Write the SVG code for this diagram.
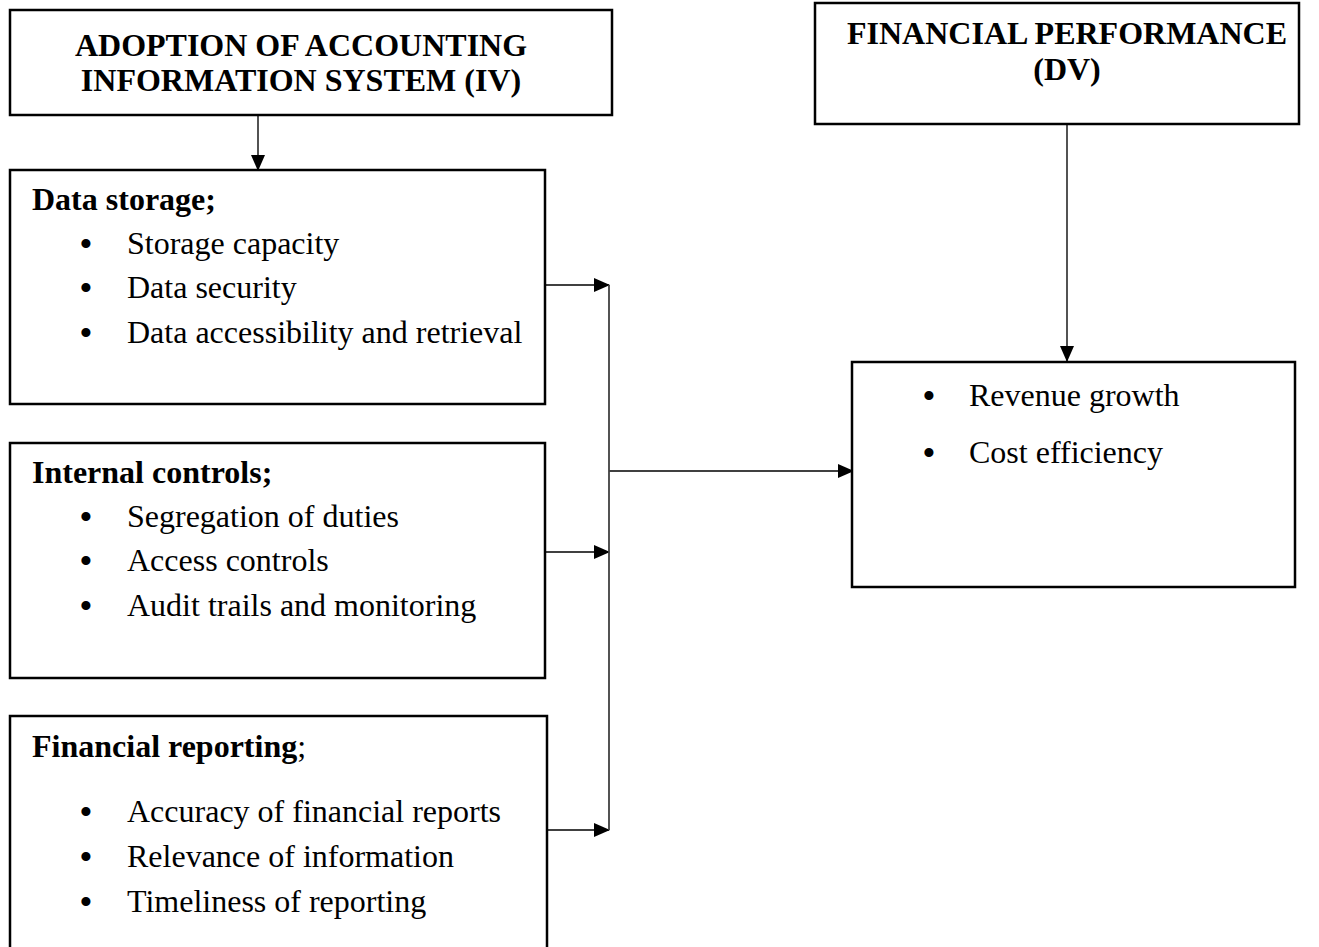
<svg xmlns="http://www.w3.org/2000/svg" width="1319" height="947" viewBox="0 0 1319 947">
<style>
.box{fill:#fff;stroke:#000;stroke-width:2.5}
.t{font-family:"Liberation Serif","Times New Roman",serif;font-size:32px;fill:#000}
.b{font-weight:bold}
.c{text-anchor:middle}
.bu{font-family:"Liberation Serif","Times New Roman",serif;font-size:38px;fill:#000;text-anchor:middle}
.ln{stroke:#404040;stroke-width:1.8;fill:none}
</style>
<defs>
<marker id="ah" markerWidth="16" markerHeight="14" refX="15" refY="7" orient="auto" markerUnits="userSpaceOnUse">
<path d="M0,0 L16,7 L0,14 Z" fill="#000"/>
</marker>
</defs>
<rect width="1319" height="947" fill="#fff"/>
<g id="connectors">
<line class="ln" x1="258" y1="115" x2="258" y2="170" marker-end="url(#ah)"/>
<line class="ln" x1="1067" y1="124" x2="1067" y2="361" marker-end="url(#ah)"/>
<line class="ln" x1="545" y1="285" x2="609" y2="285" marker-end="url(#ah)"/>
<line class="ln" x1="545" y1="552" x2="609" y2="552" marker-end="url(#ah)"/>
<line class="ln" x1="547" y1="830" x2="609" y2="830" marker-end="url(#ah)"/>
<line class="ln" x1="609" y1="285" x2="609" y2="830"/>
<line class="ln" x1="609" y1="471" x2="853" y2="471" marker-end="url(#ah)"/>
</g>
<g id="iv">
<rect class="box" x="10" y="10" width="602" height="105"/>
<text class="t b c" x="301" y="56">ADOPTION OF ACCOUNTING</text>
<text class="t b c" x="301" y="91">INFORMATION SYSTEM (IV)</text>
</g>
<g id="data-storage">
<rect class="box" x="10" y="170" width="535" height="234"/>
<text class="t b" x="32" y="210">Data storage;</text>
<text class="bu" x="86" y="257">•</text><text class="t" x="127" y="254">Storage capacity</text>
<text class="bu" x="86" y="301">•</text><text class="t" x="127" y="298">Data security</text>
<text class="bu" x="86" y="346">•</text><text class="t" x="127" y="343">Data accessibility and retrieval</text>
</g>
<g id="internal-controls">
<rect class="box" x="10" y="443" width="535" height="235"/>
<text class="t b" x="32" y="483">Internal controls;</text>
<text class="bu" x="86" y="530">•</text><text class="t" x="127" y="527">Segregation of duties</text>
<text class="bu" x="86" y="574">•</text><text class="t" x="127" y="571">Access controls</text>
<text class="bu" x="86" y="619">•</text><text class="t" x="127" y="616">Audit trails and monitoring</text>
</g>
<g id="financial-reporting">
<rect class="box" x="10" y="716" width="537" height="240"/>
<text class="t" x="32" y="757"><tspan class="b">Financial reporting</tspan>;</text>
<text class="bu" x="86" y="825">•</text><text class="t" x="127" y="822">Accuracy of financial reports</text>
<text class="bu" x="86" y="870">•</text><text class="t" x="127" y="867">Relevance of information</text>
<text class="bu" x="86" y="915">•</text><text class="t" x="127" y="912">Timeliness of reporting</text>
</g>
<g id="dv">
<rect class="box" x="815" y="3" width="484" height="121"/>
<text class="t b c" x="1067" y="44">FINANCIAL PERFORMANCE</text>
<text class="t b c" x="1067" y="80">(DV)</text>
</g>
<g id="dv-indicators">
<rect class="box" x="852" y="362" width="443" height="225"/>
<text class="bu" x="929" y="409">•</text><text class="t" x="969" y="406">Revenue growth</text>
<text class="bu" x="929" y="466">•</text><text class="t" x="969" y="463">Cost efficiency</text>
</g>
</svg>
